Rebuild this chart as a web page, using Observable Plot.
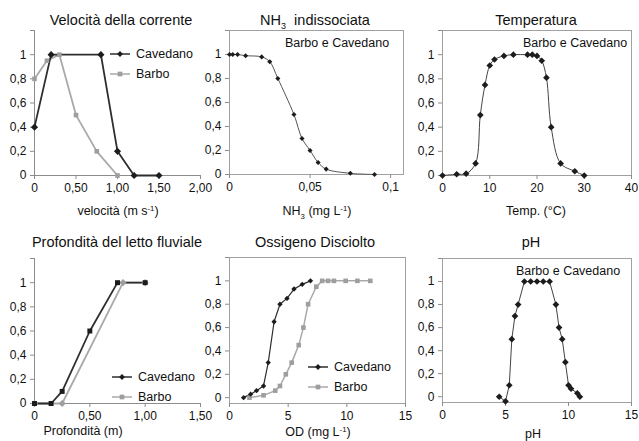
<!DOCTYPE html>
<html><head><meta charset="utf-8">
<script src="https://cdn.jsdelivr.net/npm/d3@7"></script>
<script src="https://cdn.jsdelivr.net/npm/@observablehq/plot@0.6"></script>
<style>
body{margin:0;background:#fff;}
#wrap{position:relative;width:639px;height:441px;overflow:hidden;background:#fff;}
</style></head><body><div id="wrap"></div>
<script>
// ---------- data ----------
const velX_cav = [0, 0.2, 0.8, 1.0, 1.2, 1.5];
const velY_cav = [0.4, 1, 1, 0.2, 0, 0];
const velX_bar = [0, 0.15, 0.3, 0.5, 0.75, 1.0];
const velY_bar = [0.8, 0.95, 1, 0.5, 0.2, 0];
const nh3X = [0, 0.002, 0.005, 0.01, 0.02, 0.025, 0.03, 0.04, 0.045, 0.05, 0.055, 0.06, 0.075, 0.09];
const nh3Y = [1, 1, 1, 0.99, 0.98, 0.94, 0.8, 0.5, 0.3, 0.2, 0.1, 0.045, 0.01, 0];
const tempX = [0, 3, 5, 7, 8, 9, 10, 11, 13, 15, 18, 19, 20, 21, 22, 23, 25, 28, 30];
const tempY = [0, 0.01, 0.015, 0.1, 0.5, 0.75, 0.91, 0.96, 0.99, 1, 1, 1, 0.99, 0.95, 0.81, 0.4, 0.1, 0.035, 0];
const profX_cav = [0, 0.15, 0.25, 0.5, 0.75, 1.0];
const profY_cav = [0, 0, 0.1, 0.6, 1, 1];
const profX_bar = [0, 0.25, 0.8, 1.0];
const profY_bar = [0, 0, 1, 1];
const odX_cav = [1.2, 1.8, 2.3, 2.9, 3.3, 3.8, 4.3, 4.9, 5.5, 6.2, 6.9];
const odY_cav = [0, 0.03, 0.06, 0.1, 0.3, 0.65, 0.8, 0.85, 0.93, 0.97, 1];
const odX_bar = [1.7, 2.9, 3.9, 4.3, 4.8, 5.3, 5.9, 6.3, 6.7, 7.4, 7.9, 8.4, 8.9, 9.9, 10.9, 12];
const odY_bar = [0, 0.02, 0.06, 0.1, 0.2, 0.3, 0.45, 0.6, 0.8, 0.95, 1, 1, 1, 1, 1, 1];
const phX = [4.5, 5, 5.3, 5.5, 5.75, 6, 6.5, 7, 7.5, 8, 8.5, 9, 9.25, 9.5, 9.75, 10, 10.2, 10.7, 10.9];
const phY = [0, -0.04, 0.1, 0.5, 0.7, 0.8, 1, 1, 1, 1, 1, 0.8, 0.6, 0.5, 0.3, 0.1, 0.07, 0.03, 0];

// ---------- ticks & labels ----------
const yTicks = [0, 0.2, 0.4, 0.6, 0.8, 1, 1.2];
const yTickLabels = ["0", "0,2", "0,4", "0,6", "0,8", "1", ""];
const velTicks = [0, 0.5, 1, 1.5, 2];
const velTickLabels = ["0", "0,50", "1,00", "1,50", "2,00"];
const nh3Ticks = [0, 0.05, 0.1];
const nh3TickLabels = ["0", "0,05", "0,1"];
const tempTicks = [0, 10, 20, 30, 40];
const tempTickLabels = ["0", "10", "20", "30", "40"];
const profTicks = [0, 0.5, 1, 1.5];
const profTickLabels = ["0", "0,50", "1,00", "1,50"];
const odTicks = [0, 5, 10, 15];
const odTickLabels = ["0", "5", "10", "15"];
const phTicks = [0, 5, 10, 15];
const phTickLabels = ["0", "5", "10", "15"];

const seriesNames = ["Cavedano", "Barbo"];
const bothLabel = "Barbo e Cavedano";
const titles = {
  vel: [["Velocità della corrente"]],
  nh3: [["NH"], ["3", "sub"], ["  indissociata"]],
  temp: [["Temperatura"]],
  prof: [["Profondità del letto fluviale"]],
  od: [["Ossigeno Disciolto"]],
  ph: [["pH"]]
};
const xTitles = {
  vel: [["velocità (m s"], ["-1", "sup"], [")"]],
  nh3: [["NH"], ["3", "sub"], [" (mg L"], ["-1", "sup"], [")"]],
  temp: [["Temp. (°C)"]],
  prof: [["Profondità (m)"]],
  od: [["OD (mg L"], ["-1", "sup"], [")"]],
  ph: [["pH"]]
};

// ---------- style ----------
const FONT = "'Liberation Sans', Arial, Helvetica, sans-serif";
const CAV = "#1c1c1c", CAV_LINE = "#2e2e2e";
const BAR = "#9e9e9e", BAR_LINE = "#a9a9a9";
const AXIS = "#8c8c8c";

const pts = (xs, ys) => xs.map((x, i) => ({x, y: ys[i]}));
const fmt = (ticks, labels) => d => { const i = ticks.findIndex(t => Math.abs(t - d) < 1e-9); return i < 0 ? "" : labels[i]; };

function richText(parts, px, py, size, anchor = "middle") {
  return () => {
    const t = d3.create("svg:text")
      .attr("x", px).attr("y", py)
      .attr("text-anchor", anchor).attr("font-size", size)
      .attr("font-family", FONT).attr("fill", "#111")
      .style("white-space", "pre");
    let shift = 0;
    for (const [s, kind] of parts) {
      const target = kind === "sup" ? -size * 0.38 : kind === "sub" ? size * 0.3 : 0;
      const base = 0.35 * size;
      const ts = t.append("tspan").text(s);
      const dy = (shift === 0 && target === 0 && t.selectAll("tspan").size() === 1) ? base : target - shift + (t.selectAll("tspan").size() === 1 ? base : 0);
      ts.attr("dy", dy);
      if (kind) ts.attr("font-size", size * 0.62);
      shift = target;
    }
    return t.node();
  };
}

function legend(items, px, py, gap) {
  return () => {
    const g = d3.create("svg:g");
    items.forEach((it, i) => {
      const y = py + i * gap;
      g.append("line").attr("x1", px).attr("x2", px + 20).attr("y1", y).attr("y2", y)
        .attr("stroke", it.stroke).attr("stroke-width", 1.5);
      g.append("path").attr("d", d3.symbol(it.symbol, it.size)())
        .attr("transform", `translate(${px + 10},${y})`).attr("fill", it.fill);
      g.append("text").attr("x", px + 26).attr("y", y).attr("dy", "0.35em")
        .attr("text-anchor", "start")
        .attr("font-size", 12.5).attr("font-family", FONT).attr("fill", "#111").text(it.label);
    });
    return g.node();
  };
}
const legendItems = [
  {label: seriesNames[0], stroke: CAV_LINE, fill: CAV, symbol: d3.symbolDiamond2, size: 22},
  {label: seriesNames[1], stroke: BAR_LINE, fill: BAR, symbol: d3.symbolSquare, size: 22}
];

const wrap = document.getElementById("wrap");

function panel(cfg) {
  const marks = [];
  if (cfg.frame) marks.push(Plot.frame({stroke: "#a0a0a0"}));
  else {
    marks.push(Plot.ruleX([cfg.xDomain[0]], {stroke: AXIS}));
    marks.push(Plot.ruleY([cfg.yDomain[0]], {stroke: AXIS}));
  }
  marks.push(Plot.axisY({ticks: yTicks, tickFormat: fmt(yTicks, yTickLabels), tickSize: 4, tickPadding: 4,
    fontSize: 12, color: "#111", stroke: AXIS, label: null}));
  marks.push(Plot.axisX({ticks: cfg.xTicks, tickFormat: fmt(cfg.xTicks, cfg.xLabels), tickSize: 4, tickPadding: 4,
    fontSize: 12, color: "#111", stroke: AXIS, label: null}));
  marks.push(...cfg.marks);
  const p = Plot.plot({
    width: cfg.width, height: cfg.height,
    marginLeft: cfg.mL, marginRight: cfg.mR, marginTop: cfg.mT, marginBottom: cfg.mB,
    style: {background: "transparent", fontFamily: FONT, overflow: "visible"},
    x: {domain: cfg.xDomain}, y: {domain: cfg.yDomain},
    marks
  });
  p.style.position = "absolute";
  p.style.left = cfg.left + "px";
  p.style.top = cfg.top + "px";
  p.style.maxWidth = "none";
  wrap.appendChild(p);
}

// Panel 1: velocità
panel({
  left: 0, top: 0, width: 213, height: 220, mL: 34, mR: 13, mT: 30, mB: 45,
  xDomain: [0, 2], yDomain: [0, 1.2], xTicks: velTicks, xLabels: velTickLabels, frame: false,
  marks: [
    Plot.line(pts(velX_bar, velY_bar), {x: "x", y: "y", stroke: BAR_LINE, strokeWidth: 1.8}),
    Plot.line(pts(velX_cav, velY_cav), {x: "x", y: "y", stroke: CAV_LINE, strokeWidth: 1.8}),
    Plot.dot(pts(velX_bar, velY_bar), {x: "x", y: "y", symbol: "square", r: 2.6, fill: BAR}),
    Plot.dot(pts(velX_cav, velY_cav), {x: "x", y: "y", symbol: "diamond2", r: 3.2, fill: CAV}),
    legend(legendItems, 110, 54, 20),
    richText(titles.vel, 121, 20, 14.5),
    richText(xTitles.vel, 118, 211, 12.5)
  ]
});

// Panel 2: NH3
panel({
  left: 190, top: 0, width: 236, height: 220, mL: 39, mR: 23, mT: 30, mB: 46,
  xDomain: [0, 0.108], yDomain: [0, 1.2], xTicks: nh3Ticks, xLabels: nh3TickLabels, frame: true,
  marks: [
    Plot.line(pts(nh3X, nh3Y), {x: "x", y: "y", stroke: "#555", strokeWidth: 1, curve: "catmull-rom"}),
    Plot.dot(pts(nh3X, nh3Y), {x: "x", y: "y", symbol: "diamond2", r: 2.3, fill: CAV}),
    richText([[bothLabel]], 147, 43, 12.5),
    richText(titles.nh3, 125, 20, 14.5),
    richText(xTitles.nh3, 127, 211, 12.5)
  ]
});

// Panel 3: Temperatura
panel({
  left: 403, top: 0, width: 236, height: 220, mL: 39, mR: 8, mT: 30, mB: 45,
  xDomain: [0, 40], yDomain: [0, 1.2], xTicks: tempTicks, xLabels: tempTickLabels, frame: true,
  marks: [
    Plot.line(pts(tempX, tempY), {x: "x", y: "y", stroke: "#444", strokeWidth: 1, curve: "catmull-rom"}),
    Plot.dot(pts(tempX, tempY), {x: "x", y: "y", symbol: "diamond2", r: 3, fill: CAV}),
    richText([[bothLabel]], 172, 43, 12.5),
    richText(titles.temp, 133, 20, 14.5),
    richText(xTitles.temp, 133, 211, 12.5)
  ]
});

// Panel 4: Profondità
panel({
  left: 0, top: 220, width: 213, height: 221, mL: 34, mR: 13, mT: 38, mB: 38,
  xDomain: [0, 1.5], yDomain: [0, 1.2], xTicks: profTicks, xLabels: profTickLabels, frame: false,
  marks: [
    Plot.line(pts(profX_bar, profY_bar), {x: "x", y: "y", stroke: BAR_LINE, strokeWidth: 1.8}),
    Plot.line(pts(profX_cav, profY_cav), {x: "x", y: "y", stroke: CAV_LINE, strokeWidth: 1.8}),
    Plot.dot(pts(profX_bar, profY_bar), {x: "x", y: "y", symbol: "diamond2", r: 3.2, fill: BAR}),
    Plot.dot(pts(profX_cav, profY_cav), {x: "x", y: "y", symbol: "square", r: 2.8, fill: CAV}),
    legend(legendItems, 112, 157, 20),
    richText(titles.prof, 117, 22, 14.5),
    richText(xTitles.prof, 83, 211, 12.5)
  ]
});

// Panel 5: Ossigeno Disciolto
panel({
  left: 190, top: 220, width: 236, height: 221, mL: 39, mR: 21, mT: 37, mB: 38,
  xDomain: [0, 15], yDomain: [-0.05, 1.2], xTicks: odTicks, xLabels: odTickLabels, frame: true,
  marks: [
    Plot.line(pts(odX_bar, odY_bar), {x: "x", y: "y", stroke: BAR_LINE, strokeWidth: 1.5}),
    Plot.line(pts(odX_cav, odY_cav), {x: "x", y: "y", stroke: CAV_LINE, strokeWidth: 1.2}),
    Plot.dot(pts(odX_bar, odY_bar), {x: "x", y: "y", symbol: "square", r: 2.6, fill: BAR}),
    Plot.dot(pts(odX_cav, odY_cav), {x: "x", y: "y", symbol: "diamond2", r: 2.4, fill: CAV}),
    legend(legendItems, 118, 147, 20),
    richText(titles.od, 125, 22, 14.5),
    richText(xTitles.od, 128, 212, 12.5)
  ]
});

// Panel 6: pH
panel({
  left: 403, top: 220, width: 236, height: 221, mL: 39, mR: 8, mT: 38, mB: 39,
  xDomain: [0, 15], yDomain: [-0.05, 1.2], xTicks: phTicks, xLabels: phTickLabels, frame: true,
  marks: [
    Plot.line(pts(phX, phY), {x: "x", y: "y", stroke: "#444", strokeWidth: 1}),
    Plot.dot(pts(phX, phY), {x: "x", y: "y", symbol: "diamond2", r: 3, fill: CAV}),
    richText([[bothLabel]], 165, 51, 12.5),
    richText(titles.ph, 128, 22, 14.5),
    richText(xTitles.ph, 130, 214, 12.5)
  ]
});
</script></body></html>
